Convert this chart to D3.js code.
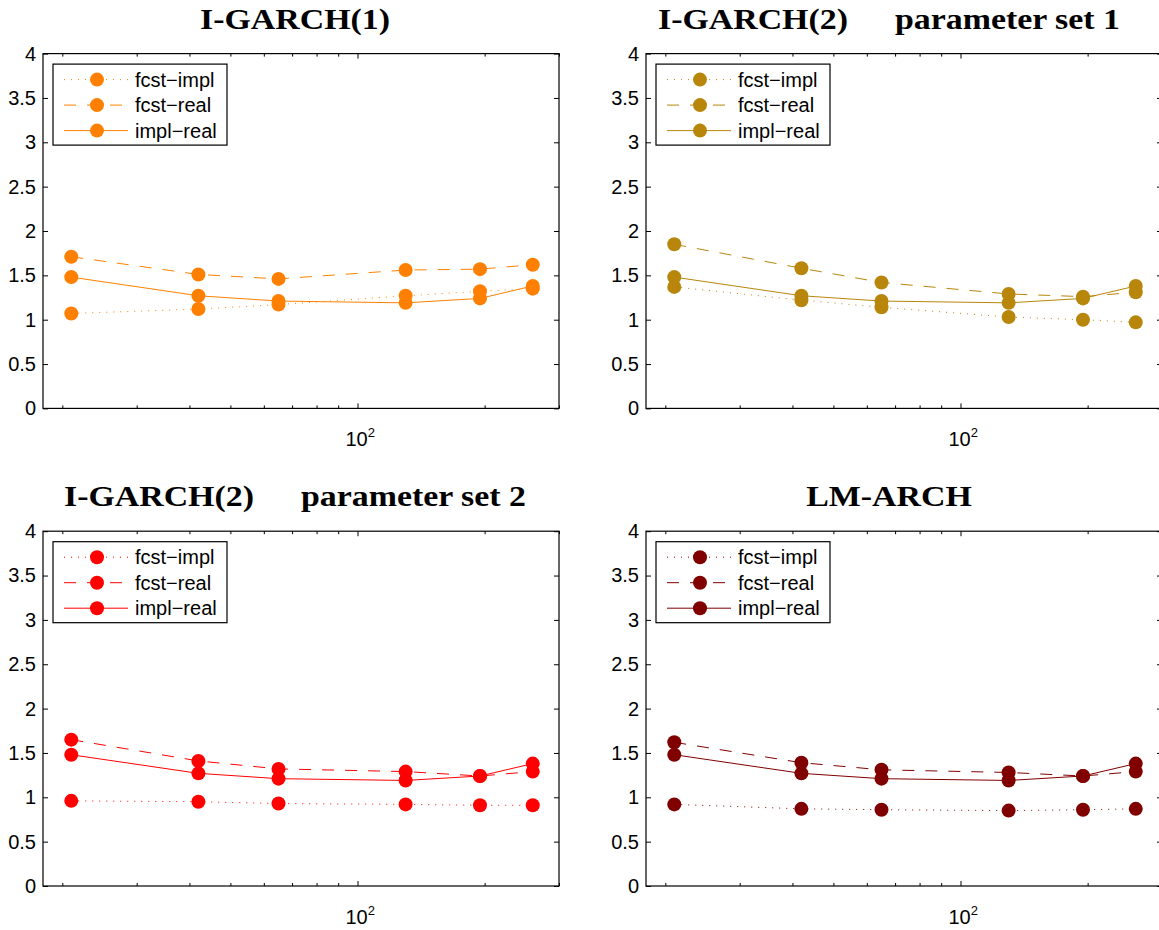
<!DOCTYPE html>
<html lang="en">
  <head>
    <meta charset="utf-8">
    <title>Loss ratios by horizon</title>
    <style>
      body { margin: 0; background: #fff; }
      svg { display: block; background: #fff; }
      .tick text, .legend text, .xlab { font-family: 'Liberation Sans', Arial, sans-serif; fill: #000; }
      .title { font-family: 'Liberation Serif', 'Times New Roman', serif; font-weight: bold; font-size: 29px; fill: #000; }
    </style>
  </head>
  <body>
    <div id="viz"></div>
    <script src="https://d3js.org/d3.v7.min.js"></script>
    <script>
      // horizons (x, log scale) and the ratio series
      const horizons = [21, 42, 65, 130, 195, 260];
      const implReal = [1.48, 1.27, 1.21, 1.19, 1.24, 1.38];

      const fcstImplIG1 = [1.07, 1.12, 1.17, 1.27, 1.32, 1.35];
      const fcstRealIG1 = [1.71, 1.51, 1.46, 1.56, 1.57, 1.62];

      const fcstImplIG2a = [1.37, 1.22, 1.14, 1.03, 1.00, 0.97];
      const fcstRealIG2a = [1.85, 1.58, 1.42, 1.29, 1.26, 1.31];

      const fcstImplIG2b = [0.96, 0.95, 0.93, 0.92, 0.91, 0.91];
      const fcstRealIG2b = [1.65, 1.41, 1.32, 1.29, 1.24, 1.29];

      const fcstImplLM = [0.92, 0.87, 0.86, 0.85, 0.86, 0.87];
      const fcstRealLM = [1.62, 1.39, 1.31, 1.28, 1.24, 1.29];

      const seriesNames = ["fcst\u2212impl", "fcst\u2212real", "impl\u2212real"];
      const titles = [["I-GARCH(1)"], ["I-GARCH(2)", "parameter set 1"], ["I-GARCH(2)", "parameter set 2"], ["LM-ARCH"]];
      const yTicks = [0, 0.5, 1, 1.5, 2, 2.5, 3, 3.5, 4];
      const xMinor = [20, 30, 40, 50, 60, 70, 80, 90, 200, 300];

      const panels = [
        { series: [fcstImplIG1, fcstRealIG1, implReal], color: "#ff8000" },
        { series: [fcstImplIG2a, fcstRealIG2a, implReal], color: "#b8860b" },
        { series: [fcstImplIG2b, fcstRealIG2b, implReal], color: "#ff0000" },
        { series: [fcstImplLM, fcstRealLM, implReal], color: "#800000" }
      ];

      const W = 1159, H = 930;
      const pw = 516, ph = 354.8;
      const lefts = [43, 646], tops = [53.6, 531.2];
      const titleCenters = [295, 889];
      const dashes = ["1,6", "12,11", null];
      const markR = 7;

      const svg = d3.select("#viz").append("svg").attr("width", W).attr("height", H);

      const x = d3.scaleLog().domain([18, 300]).range([0, pw]);
      const y = d3.scaleLinear().domain([0, 4]).range([ph, 0]);

      // measure a reference title once so every title gets the same wide (CM-like) stretch
      const probe = svg.append("text").attr("class", "title").text("I-GARCH(1)");
      const stretch = 190 / probe.node().getComputedTextLength();
      probe.remove();

      panels.forEach((p, i) => {
        const col = i % 2, row = Math.floor(i / 2);
        const g = svg.append("g").attr("transform", `translate(${lefts[col]},${tops[row]})`);

        // title
        const parts = titles[i];
        const tg = svg.append("g");
        const widths = parts.map(t => {
          const el = tg.append("text").attr("class", "title").text(t);
          const w = el.node().getComputedTextLength() * stretch;
          el.attr("textLength", w).attr("lengthAdjust", "spacingAndGlyphs");
          return w;
        });
        const gap = 47;
        const total = d3.sum(widths) + gap * (parts.length - 1);
        let cx = titleCenters[col] - total / 2;
        tg.selectAll("text").each(function(d, k) {
          d3.select(this).attr("x", cx).attr("y", tops[row] - 25);
          cx += widths[k] + gap;
        });

        // axes with inward ticks on all four sides
        const yl = g.append("g")
          .call(d3.axisLeft(y).tickValues(yTicks).tickSizeInner(-5).tickSizeOuter(0).tickPadding(7).tickFormat(d3.format("~g")));
        yl.selectAll("text").style("font-size", "20px");
        g.append("g").attr("transform", `translate(${pw},0)`)
          .call(d3.axisRight(y).tickValues(yTicks).tickSizeInner(-5).tickSizeOuter(0).tickFormat(""));
        g.append("g").attr("transform", `translate(0,${ph})`)
          .call(d3.axisBottom(x).tickValues(xMinor).tickSizeInner(-3).tickSizeOuter(0).tickFormat(""));
        g.append("g")
          .call(d3.axisTop(x).tickValues(xMinor).tickSizeInner(-3).tickSizeOuter(0).tickFormat(""));
        g.append("g").attr("transform", `translate(0,${ph})`)
          .call(d3.axisBottom(x).tickValues([100]).tickSizeInner(-5).tickSizeOuter(0).tickFormat(""));
        g.append("g")
          .call(d3.axisTop(x).tickValues([100]).tickSizeInner(-5).tickSizeOuter(0).tickFormat(""));
        g.selectAll(".domain").remove();
        g.selectAll(".tick line").attr("stroke", "#000");

        g.append("rect")
          .attr("x", 0).attr("y", 0).attr("width", pw).attr("height", ph)
          .attr("fill", "none").attr("stroke", "#000").attr("stroke-width", 1.2);

        const xl = g.append("text").attr("class", "xlab")
          .attr("x", x(100) - 12).attr("y", ph + 38).style("font-size", "20px");
        xl.append("tspan").text("10");
        xl.append("tspan").attr("dy", -9).style("font-size", "13px").text("2");

        // series
        const line = d3.line().x((d, k) => x(horizons[k])).y(d => y(d));
        p.series.forEach((vals, s) => {
          g.append("path").datum(vals)
            .attr("d", line)
            .attr("fill", "none")
            .attr("stroke", p.color)
            .attr("stroke-width", 1)
            .attr("stroke-dasharray", dashes[s]);
          g.append("g").selectAll("circle").data(vals).join("circle")
            .attr("cx", (d, k) => x(horizons[k]))
            .attr("cy", d => y(d))
            .attr("r", markR)
            .attr("fill", p.color);
        });

        // legend
        const lg = g.append("g").attr("class", "legend").attr("transform", "translate(10,10.5)");
        lg.append("rect").attr("width", 174).attr("height", 81)
          .attr("fill", "#fff").attr("stroke", "#000").attr("stroke-width", 1.2);
        seriesNames.forEach((name, s) => {
          const ly = 15.5 + s * 25.5;
          lg.append("line").attr("x1", 11).attr("x2", 75).attr("y1", ly).attr("y2", ly)
            .attr("stroke", p.color).attr("stroke-width", 1).attr("stroke-dasharray", dashes[s]);
          lg.append("circle").attr("cx", 44).attr("cy", ly).attr("r", markR).attr("fill", p.color);
          lg.append("text").attr("x", 82).attr("y", ly).attr("dy", "0.35em")
            .style("font-size", "20px").text(name);
        });
      });
    </script>
  </body>
</html>
